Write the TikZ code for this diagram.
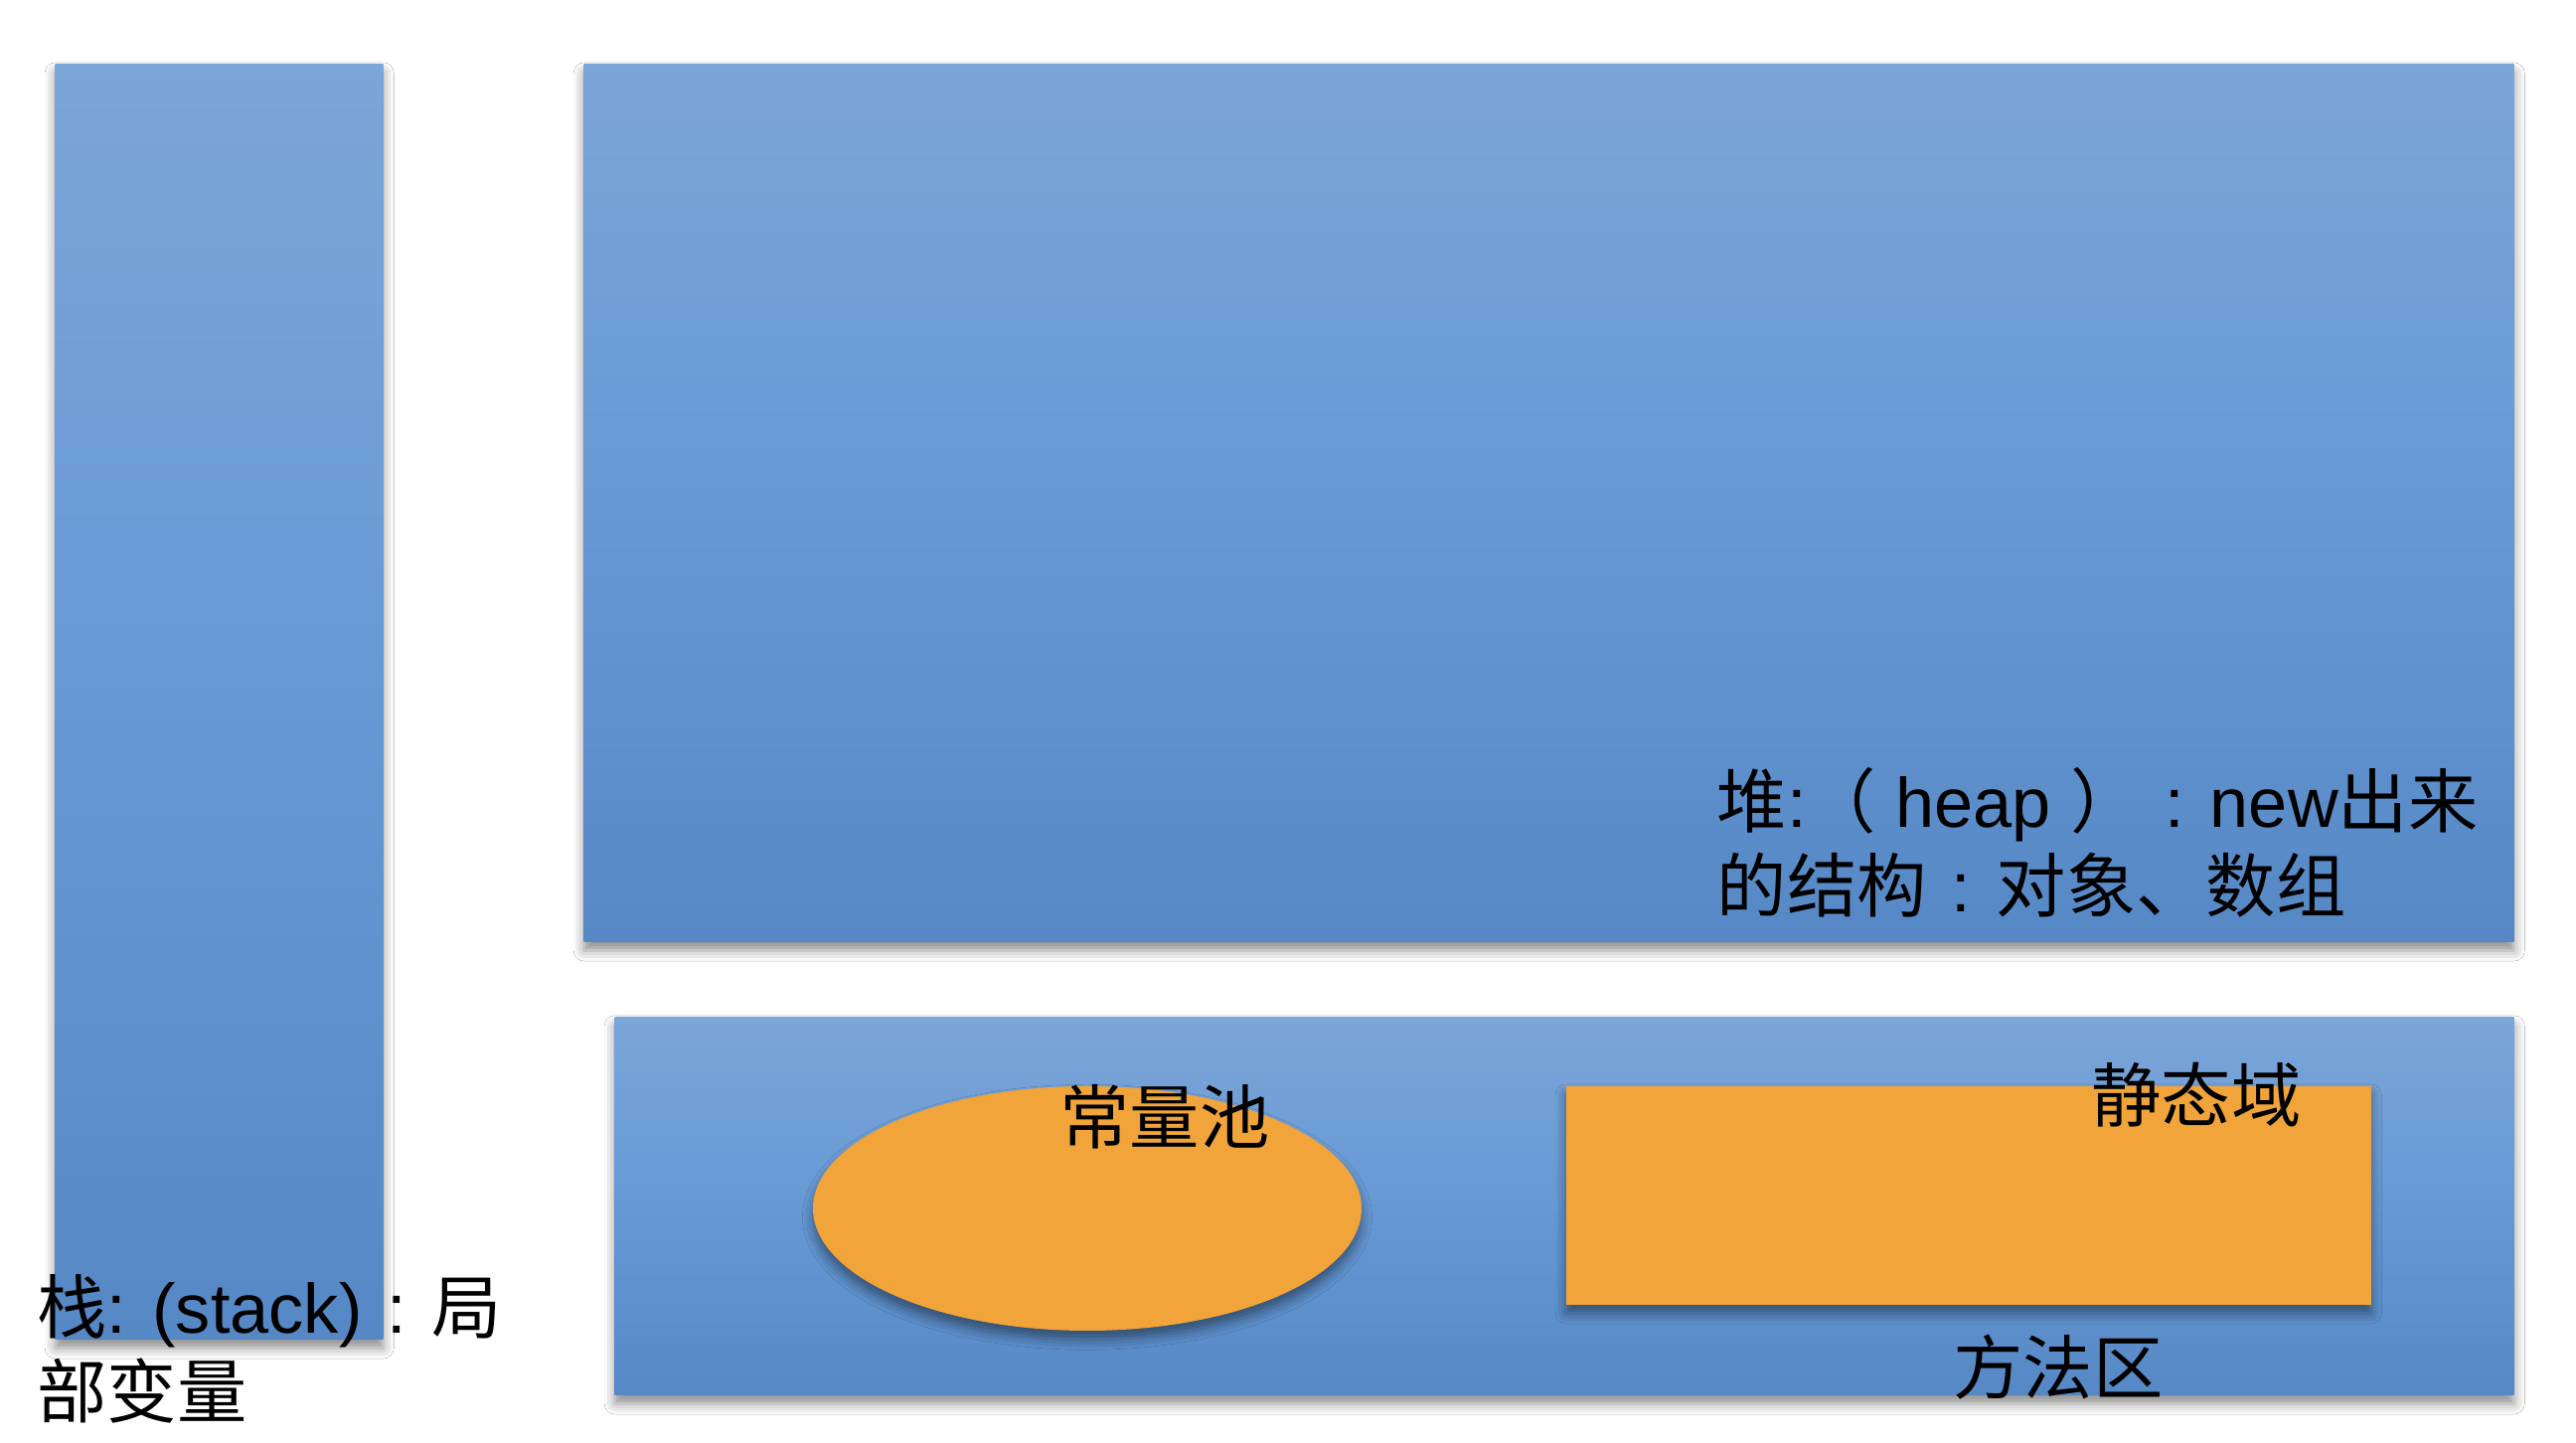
\documentclass[tikz,border=0pt]{standalone}
\usepackage{fontspec}
\setmainfont{Liberation Sans}
\newfontfamily\cjk{Noto Sans CJK SC}
\newcommand{\fwcolon}{\makebox[1em][c]{:}}
\usetikzlibrary{shadows.blur,shapes.geometric}
\definecolor{bluetop}{RGB}{124,165,216}
\definecolor{bluemid}{RGB}{102,153,212}
\definecolor{bluebot}{RGB}{86,136,197}
\definecolor{orangefill}{RGB}{240,164,58}
\tikzset{
  areabox/.style={rectangle, draw=none, inner sep=0pt, anchor=north west,
    top color=bluetop, bottom color=bluebot, middle color=bluemid,
    blur shadow={shadow xshift=0pt, shadow yshift=-2.5pt, shadow blur radius=3pt, shadow opacity=45}},
  orangebox/.style={draw=none, inner sep=0pt, fill=orangefill,
    blur shadow={shadow xshift=0pt, shadow yshift=-2.5pt, shadow blur radius=3pt, shadow opacity=45}},
  lbl/.style={inner sep=0pt, text=black, font=\fontsize{20pt}{24pt}\selectfont},
}
\begin{document}
\begin{tikzpicture}
\useasboundingbox (0,0) rectangle (25.92,14.52);
\fill[white] (0,0) rectangle (25.92,14.52);
% stack
\node[areabox, minimum width=3.30cm, minimum height=12.83cm] (stack) at (0.55,13.88) {};
% heap
\node[areabox, minimum width=19.42cm, minimum height=8.83cm] (heap) at (5.87,13.88) {};
% method area
\node[areabox, minimum width=19.11cm, minimum height=3.80cm] (method) at (6.18,4.29) {};
% constant pool ellipse
\node[orangebox, ellipse, minimum width=5.52cm, minimum height=2.46cm] (pool) at (10.94,2.36) {};
% static field rect
\node[orangebox, rectangle, anchor=north west, minimum width=8.10cm, minimum height=2.20cm] (static) at (15.75,3.60) {};
% labels
\node[lbl, anchor=north west, align=left] (stacklbl) at (0.37,1.70)
  {{\cjk 栈}: (stack)\fwcolon{\cjk 局}\\{\cjk 部变量}};
\node[lbl, anchor=north west, align=left] (heaplbl) at (17.27,6.80)
  {{\cjk 堆}:{\cjk （} heap {\cjk ）}\fwcolon new{\cjk 出来}\\{\cjk 的结构}\fwcolon{\cjk 对象、数组}};
\node[lbl] (poollbl) at (11.72,3.28) {\cjk 常量池};
\node[lbl] (staticlbl) at (22.10,3.50) {\cjk 静态域};
\node[lbl] (methodlbl) at (20.71,0.76) {\cjk 方法区};
\end{tikzpicture}
\end{document}
